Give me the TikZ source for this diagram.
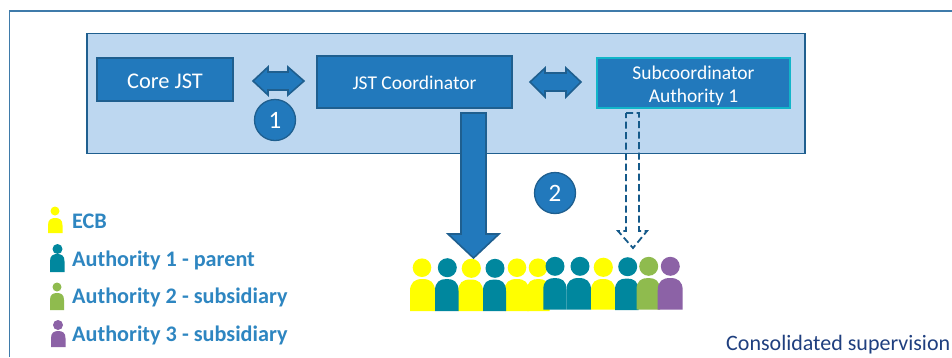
\documentclass[tikz,border=0pt]{standalone}
\usepackage{fontspec}
\setmainfont{Carlito}
\definecolor{boxfill}{HTML}{2279BC}
\definecolor{boxedge}{HTML}{1F5F8F}
\definecolor{panelfill}{HTML}{BDD7F0}
\definecolor{frameline}{HTML}{3F7BAA}
\definecolor{legendtext}{HTML}{2E86C1}
\definecolor{navy}{HTML}{1F3F7F}
\definecolor{cyanedge}{HTML}{12B5C9}
\definecolor{dashline}{HTML}{155A8A}
\definecolor{pyellow}{HTML}{FFFF00}
\definecolor{pteal}{HTML}{00879E}
\definecolor{pgreen}{HTML}{8FBB4E}
\definecolor{ppurple}{HTML}{8C62A6}
\tikzset{
  x=1pt,y=-1pt,
  bluebox/.style={draw=boxedge,line width=1.6pt,fill=boxfill,text=white,align=center,inner sep=0pt,outer sep=0pt,anchor=north west},
  numdisc/.style={circle,draw=boxedge,line width=1.3pt,fill=boxfill,text=white,minimum size=41pt,inner sep=0pt,outer sep=0pt,font=\fontsize{25}{25}\selectfont},
  blockarrow/.style={draw=boxedge,line width=1.6pt,fill=boxfill,line join=miter},
  hollowarrow/.style={draw=dashline,line width=1.8pt,dash pattern=on 7pt off 3.5pt,line join=miter},
  legendlabel/.style={anchor=west,inner sep=0pt,text=legendtext,font=\fontsize{22.2}{22.2}\selectfont\bfseries},
}
% colour, head x, head y, head radius, body left, body right, body top, body bottom
\newcommand{\personfig}[8]{%
  \fill[#1] (#2,#3) circle[radius=#4];
  \fill[#1] (#5,#8) -- (#5,{#7+(#6-#5)/2})
     .. controls (#5,{#7+(#6-#5)*0.12}) and ({#5+(#6-#5)*0.2},#7) .. ({(#5+#6)/2},#7)
     .. controls ({#6-(#6-#5)*0.2},#7) and (#6,{#7+(#6-#5)*0.12}) .. (#6,{#7+(#6-#5)/2})
     -- (#6,#8) -- cycle;
}
\begin{document}
\begin{tikzpicture}
\useasboundingbox (0,0) rectangle (952,357);
\fill[white] (0,0) rectangle (952,357);
% outer frame
\draw[frameline,line width=1.6pt] (9.5,357) -- (9.5,11) -- (952,11);
% panel
\node[draw=boxedge,line width=1.8pt,fill=panelfill,minimum width=718pt,minimum height=120pt,inner sep=0pt,outer sep=0pt,anchor=north west] (panel) at (87,33.5) {};
% boxes
\node[bluebox,minimum width=136pt,minimum height=43pt,text height=17pt,text depth=0pt,font=\fontsize{22.4}{22.4}\selectfont] (core) at (97,58) {Core JST};
\node[bluebox,minimum width=195pt,minimum height=52pt,text height=15pt,text depth=0pt,font=\fontsize{19.5}{19.5}\selectfont] (coord) at (317,56) {JST Coordinator};
\node[bluebox,draw=cyanedge,minimum width=193pt,minimum height=50pt,font=\fontsize{19.5}{23}\selectfont] (sub) at (597,58) {\rule{0pt}{20pt}Subcoordinator\\Authority 1};
% double arrows
\draw[blockarrow] (253,81) -- (268,67) -- (268,72) -- (288,72) -- (288,67) -- (304,81) -- (288,95) -- (288,90) -- (268,90) -- (268,95) -- cycle;
\draw[blockarrow] (530,82) -- (545,68) -- (545,73) -- (566,73) -- (566,68) -- (581,82) -- (566,97) -- (566,91) -- (545,91) -- (545,97) -- cycle;
% number discs
\node[numdisc] (one) at (275,120) {1};
\node[numdisc] (two) at (555,193) {2};
% big arrow
\draw[blockarrow] (461,113) -- (486,113) -- (486,234) -- (499,234) -- (473.5,258) -- (448,234) -- (461,234) -- cycle;
% dashed arrow
\draw[hollowarrow] (626,113) -- (639,113) -- (639,231) -- (647,231) -- (633,248) -- (618,231) -- (626,231) -- cycle;
% crowd
\personfig{pyellow}{422}{267.7}{9.3}{410}{435}{279}{311}
\personfig{pyellow}{471.3}{268.3}{9.6}{458}{483}{279.5}{311}
\personfig{pyellow}{517}{267.7}{9.3}{504.5}{529}{279}{311}
\personfig{pyellow}{538}{267.7}{9.3}{527}{549.5}{279}{311}
\personfig{pteal}{447.3}{267.7}{9.5}{435}{458.5}{279}{311}
\personfig{pteal}{495}{268.3}{9.5}{483}{506}{279.5}{311}
\personfig{pteal}{555}{266.3}{9.5}{543.3}{566.5}{278}{309.5}
\personfig{pteal}{580}{266.3}{9.5}{566.5}{591}{278}{309.5}
\personfig{pyellow}{603.3}{267.3}{9.6}{591}{615}{279}{309.5}
\personfig{pteal}{627.7}{266.7}{9.5}{615}{638.5}{278.5}{310}
\personfig{pgreen}{648.7}{266.3}{9.5}{636.5}{660}{278}{309.5}
\personfig{ppurple}{670.3}{266.3}{9.5}{657.7}{682.7}{278}{309.5}
% legend icons
\personfig{pyellow}{55}{211}{4.5}{48}{62.5}{218}{233}
\personfig{pteal}{57.5}{249}{5}{50}{64.5}{254}{272}
\personfig{pgreen}{57}{287}{4.5}{50}{64}{293}{310}
\personfig{ppurple}{58}{325}{5}{51}{65.5}{331}{347}
% legend labels
\node[legendlabel] (l1) at (72,221) {ECB};
\node[legendlabel] (l2) at (72,260) {Authority 1 - parent};
\node[legendlabel] (l3) at (72,297) {Authority 2 - subsidiary};
\node[legendlabel] (l4) at (72,335) {Authority 3 - subsidiary};
\node[anchor=west,inner sep=0pt,text=navy,font=\fontsize{22}{22}\selectfont] (cons) at (726,345) {Consolidated supervision};
\end{tikzpicture}
\end{document}
